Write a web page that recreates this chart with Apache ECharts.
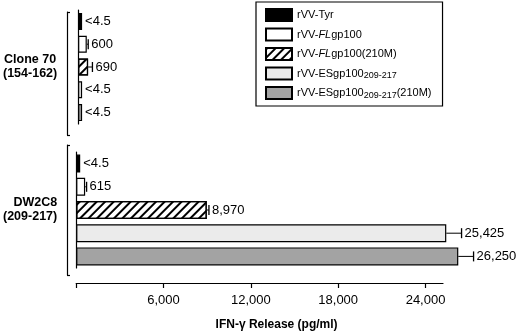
<!DOCTYPE html>
<html>
<head>
<meta charset="utf-8">
<script src="https://cdn.jsdelivr.net/npm/echarts@6/dist/echarts.min.js"></script>
<style>
  html, body { margin: 0; padding: 0; background: #fff; }
  #main { width: 520px; height: 335px; }
</style>
</head>
<body>
<div id="main"></div>
<script>
// constructs, top to bottom inside each group
var constructs = ["rVV-Tyr", "rVV-FLgp100", "rVV-FLgp100(210M)", "rVV-ESgp100209-217", "rVV-ESgp100209-217(210M)"];
var groups = ["Clone 70\n(154-162)", "DW2C8\n(209-217)"];
// IFN-gamma release (pg/ml); "<4.5" is drawn at 4.5
var clone70Values = [4.5, 600, 690, 4.5, 4.5];
var clone70Errors = [0, 100, 300, 0, 0];
var clone70Labels = ["<4.5", "600", "690", "<4.5", "<4.5"];
var dw2c8Values = [4.5, 615, 8970, 25425, 26250];
var dw2c8Errors = [0, 100, 150, 1050, 1050];
var dw2c8Labels = ["<4.5", "615", "8,970", "25,425", "26,250"];
var tickValues = [0, 6000, 12000, 18000, 24000];
var tickLabelValues = [6000, 12000, 18000, 24000];

var FONT = "Liberation Sans";

var hatch = {
  symbol: "rect",
  symbolSize: 1,
  dashArrayX: [1, 0],
  dashArrayY: [1.3, 3.7],
  rotation: -Math.PI / 4,
  color: "#000"
};
var barStyles = [
  { color: "#000", borderColor: "#000", borderWidth: 1.2 },
  { color: "#fff", borderColor: "#000", borderWidth: 1.2 },
  { color: "#fff", borderColor: "#000", borderWidth: 1.2, decal: hatch },
  { color: "#ebebeb", borderColor: "#000", borderWidth: 1.2 },
  { color: "#a3a3a3", borderColor: "#000", borderWidth: 1.2 }
];

// error whisker + value label, placed through the axes
function errorLabels(labels) {
  return function (params, api) {
    var v = api.value(0), cat = api.value(1), err = api.value(2);
    var p0 = api.coord([v, cat]);
    var p1 = api.coord([v + err, cat]);
    var zero = api.coord([0, cat]);
    var kids = [];
    if (err > 0) {
      kids.push({ type: "line", shape: { x1: p0[0], y1: p0[1], x2: p1[0], y2: p1[1] }, style: { stroke: "#000", lineWidth: 1 } });
      kids.push({ type: "line", shape: { x1: p1[0], y1: p1[1] - 5, x2: p1[0], y2: p1[1] + 5 }, style: { stroke: "#000", lineWidth: 1.3 } });
    }
    var tx = Math.max(p1[0], zero[0] + 4) + 3;
    kids.push({
      type: "text",
      style: { text: labels[params.dataIndex], x: tx, y: p1[1], fill: "#000", font: '13px "' + FONT + '"', verticalAlign: "middle", align: "left" }
    });
    return { type: "group", children: kids };
  };
}

var series = [];
var groupValues = [clone70Values, dw2c8Values];
constructs.forEach(function (name, k) {
  [0, 1].forEach(function (g) {
    series.push({
      type: "bar",
      name: name,
      xAxisIndex: g,
      yAxisIndex: g,
      stack: "g" + g,
      barWidth: g ? 18 : 17,
      barMinHeight: 4,
      clip: false,
      itemStyle: barStyles[k],
      data: groupValues[g].map(function (v, i) { return i === k ? v : "-"; })
    });
  });
});
series.push({
  type: "custom",
  xAxisIndex: 0, yAxisIndex: 0,
  renderItem: errorLabels(clone70Labels),
  encode: { x: 0, y: 1 },
  clip: false,
  data: clone70Values.map(function (v, i) { return [v, i, clone70Errors[i]]; })
});
series.push({
  type: "custom",
  xAxisIndex: 1, yAxisIndex: 1,
  renderItem: errorLabels(dw2c8Labels),
  encode: { x: 0, y: 1 },
  clip: false,
  data: dw2c8Values.map(function (v, i) { return [v, i, dw2c8Errors[i]]; })
});

function legendText(name) {
  return name.replace("FL", "{i|FL}").replace("209-217", "{s|209-217}");
}

var black = { color: "#000", width: 1.2 };

function barYAxis(g, gap, align) {
  return {
    type: "category",
    gridIndex: g,
    data: constructs,
    inverse: true,
    axisLine: { show: true, lineStyle: black },
    axisTick: { show: false },
    axisLabel: { show: false },
    name: groups[g],
    nameLocation: "middle",
    nameRotate: 0,
    nameGap: gap,
    nameTextStyle: { align: align, fontWeight: "bold", fontSize: 12.5, lineHeight: 14, color: "#000", fontFamily: FONT }
  };
}
function bracketYAxis(g) {
  return {
    type: "value",
    gridIndex: g,
    min: 0, max: 1, interval: 1,
    axisLine: { show: true, lineStyle: black },
    axisTick: { show: true, inside: true, length: 3, lineStyle: black },
    axisLabel: { show: false },
    splitLine: { show: false }
  };
}
function hiddenX(g) {
  return { type: "value", gridIndex: g, min: 0, max: 25200, show: false };
}

var option = {
  animation: false,
  textStyle: { fontFamily: FONT, color: "#000" },
  legend: {
    data: constructs,
    orient: "vertical",
    left: 256, top: 2,
    padding: [6, 11, 6, 9],
    borderColor: "#000", borderWidth: 1.2,
    itemWidth: 26, itemHeight: 12, itemGap: 5.5,
    icon: "rect",
    selectedMode: false,
    formatter: legendText,
    textStyle: {
      fontSize: 11, lineHeight: 14, color: "#000", fontFamily: FONT,
      rich: {
        i: { fontStyle: "italic", fontSize: 11, fontFamily: FONT },
        s: { fontSize: 9, lineHeight: 9, verticalAlign: "bottom", fontFamily: FONT }
      }
    }
  },
  grid: [
    { left: 76, right: 77, top: 10, height: 114 },
    { left: 76, right: 77, top: 152, height: 116 },
    { left: 67, width: 5, top: 12, height: 123 },
    { left: 67, width: 5, top: 145, height: 130 }
  ],
  xAxis: [
    hiddenX(0),
    {
      type: "value",
      gridIndex: 1,
      min: 0, max: 25200, interval: 6000,
      offset: 15,
      axisLine: { show: true, lineStyle: black },
      axisTick: { show: true, length: 5, customValues: tickValues, lineStyle: black },
      axisLabel: {
        customValues: tickLabelValues,
        margin: 11, fontSize: 13, color: "#000",
        formatter: function (v) { return v.toLocaleString("en-US"); }
      },
      splitLine: { show: false },
      name: "IFN-\u03b3 Release (pg/ml)",
      nameLocation: "middle",
      nameGap: 36,
      nameTextStyle: { fontWeight: "bold", fontSize: 12, color: "#000", padding: [0, 0, 0, 34] }
    },
    hiddenX(2),
    hiddenX(3)
  ],
  yAxis: [
    barYAxis(0, 48, "center"),
    barYAxis(1, 19, "right"),
    bracketYAxis(2),
    bracketYAxis(3)
  ],
  series: series
};

var chart = echarts.init(document.getElementById("main"));
chart.setOption(option);
</script>
</body>
</html>
